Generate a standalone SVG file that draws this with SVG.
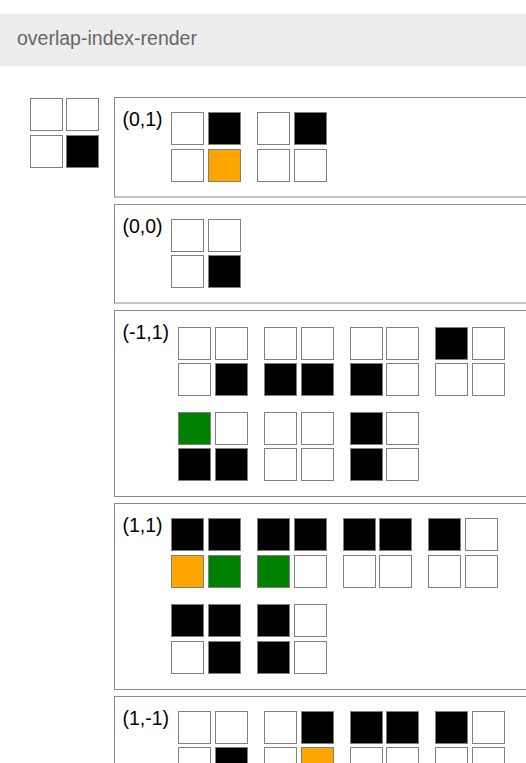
<svg xmlns="http://www.w3.org/2000/svg" width="526" height="763" viewBox="0 0 526 763">
<style>
  .bg { fill: #ffffff; }
  .hdr { fill: #eeedee; }
  .hdrt { font-family: "Liberation Sans", Arial, sans-serif; font-size: 19.5px; fill: #666666; }
  .lbl { font-family: "Liberation Sans", Arial, sans-serif; font-size: 19.5px; fill: #000000; }
  .panel { fill: #ffffff; stroke: #888888; stroke-width: 1; }
  .c { stroke: #808080; stroke-width: 1; }
  .w { fill: #ffffff; }
  .k { fill: #000000; }
  .o { fill: #ffa500; }
  .g { fill: #008000; }
</style>
<defs>
  <rect id="cell" width="32" height="32"/>
</defs>
<rect class="bg" x="0" y="0" width="526" height="763"/>

<g id="header">
  <rect class="hdr" x="0" y="14" width="526" height="52"/>
  <text class="hdrt" x="17" y="44.5">overlap-index-render</text>
</g>

<g id="legend">
  <rect class="c w" x="30.5" y="98.5" width="32" height="32"/>
  <rect class="c w" x="66.5" y="98.5" width="32" height="32"/>
  <rect class="c w" x="30.5" y="135.5" width="32" height="32"/>
  <rect class="c k" x="66.5" y="135.5" width="32" height="32"/>
</g>

<g id="panel-0-1">
  <rect class="panel" x="114.5" y="97.5" width="430" height="99.5"/>
  <text class="lbl" x="122.5" y="126">(0,1)</text>
  <rect class="c w" x="171.5" y="112.5" width="32" height="32"/>
  <rect class="c k" x="208.5" y="112.5" width="32" height="32"/>
  <rect class="c w" x="171.5" y="149.5" width="32" height="32"/>
  <rect class="c o" x="208.5" y="149.5" width="32" height="32"/>
  <rect class="c w" x="257.5" y="112.5" width="32" height="32"/>
  <rect class="c k" x="294.5" y="112.5" width="32" height="32"/>
  <rect class="c w" x="257.5" y="149.5" width="32" height="32"/>
  <rect class="c w" x="294.5" y="149.5" width="32" height="32"/>
</g>

<g id="panel-0-0">
  <rect class="panel" x="114.5" y="204.5" width="430" height="98.5"/>
  <text class="lbl" x="122.5" y="232.5">(0,0)</text>
  <rect class="c w" x="171.5" y="219.5" width="32" height="32"/>
  <rect class="c w" x="208.5" y="219.5" width="32" height="32"/>
  <rect class="c w" x="171.5" y="255.5" width="32" height="32"/>
  <rect class="c k" x="208.5" y="255.5" width="32" height="32"/>
</g>

<g id="panel-m1-1">
  <rect class="panel" x="114.5" y="310.5" width="430" height="186"/>
  <text class="lbl" x="122.5" y="339">(-1,1)</text>
  <!-- group 1 -->
  <rect class="c w" x="178.5" y="327.5" width="32" height="32"/>
  <rect class="c w" x="215.5" y="327.5" width="32" height="32"/>
  <rect class="c w" x="178.5" y="363.5" width="32" height="32"/>
  <rect class="c k" x="215.5" y="363.5" width="32" height="32"/>
  <!-- group 2 -->
  <rect class="c w" x="264.5" y="327.5" width="32" height="32"/>
  <rect class="c w" x="301.5" y="327.5" width="32" height="32"/>
  <rect class="c k" x="264.5" y="363.5" width="32" height="32"/>
  <rect class="c k" x="301.5" y="363.5" width="32" height="32"/>
  <!-- group 3 -->
  <rect class="c w" x="350.5" y="327.5" width="32" height="32"/>
  <rect class="c w" x="386.5" y="327.5" width="32" height="32"/>
  <rect class="c k" x="350.5" y="363.5" width="32" height="32"/>
  <rect class="c w" x="386.5" y="363.5" width="32" height="32"/>
  <!-- group 4 -->
  <rect class="c k" x="435.5" y="327.5" width="32" height="32"/>
  <rect class="c w" x="472.5" y="327.5" width="32" height="32"/>
  <rect class="c w" x="435.5" y="363.5" width="32" height="32"/>
  <rect class="c w" x="472.5" y="363.5" width="32" height="32"/>
  <!-- group 5 -->
  <rect class="c g" x="178.5" y="412.5" width="32" height="32"/>
  <rect class="c w" x="215.5" y="412.5" width="32" height="32"/>
  <rect class="c k" x="178.5" y="448.5" width="32" height="32"/>
  <rect class="c k" x="215.5" y="448.5" width="32" height="32"/>
  <!-- group 6 -->
  <rect class="c w" x="264.5" y="412.5" width="32" height="32"/>
  <rect class="c w" x="301.5" y="412.5" width="32" height="32"/>
  <rect class="c w" x="264.5" y="448.5" width="32" height="32"/>
  <rect class="c w" x="301.5" y="448.5" width="32" height="32"/>
  <!-- group 7 -->
  <rect class="c k" x="350.5" y="412.5" width="32" height="32"/>
  <rect class="c w" x="386.5" y="412.5" width="32" height="32"/>
  <rect class="c k" x="350.5" y="448.5" width="32" height="32"/>
  <rect class="c w" x="386.5" y="448.5" width="32" height="32"/>
</g>

<g id="panel-1-1">
  <rect class="panel" x="114.5" y="503.5" width="430" height="186"/>
  <text class="lbl" x="122.5" y="532">(1,1)</text>
  <!-- group 1 -->
  <rect class="c k" x="171.5" y="518.5" width="32" height="32"/>
  <rect class="c k" x="208.5" y="518.5" width="32" height="32"/>
  <rect class="c o" x="171.5" y="555.5" width="32" height="32"/>
  <rect class="c g" x="208.5" y="555.5" width="32" height="32"/>
  <!-- group 2 -->
  <rect class="c k" x="257.5" y="518.5" width="32" height="32"/>
  <rect class="c k" x="294.5" y="518.5" width="32" height="32"/>
  <rect class="c g" x="257.5" y="555.5" width="32" height="32"/>
  <rect class="c w" x="294.5" y="555.5" width="32" height="32"/>
  <!-- group 3 -->
  <rect class="c k" x="343.5" y="518.5" width="32" height="32"/>
  <rect class="c k" x="379.5" y="518.5" width="32" height="32"/>
  <rect class="c w" x="343.5" y="555.5" width="32" height="32"/>
  <rect class="c w" x="379.5" y="555.5" width="32" height="32"/>
  <!-- group 4 -->
  <rect class="c k" x="428.5" y="518.5" width="32" height="32"/>
  <rect class="c w" x="465.5" y="518.5" width="32" height="32"/>
  <rect class="c w" x="428.5" y="555.5" width="32" height="32"/>
  <rect class="c w" x="465.5" y="555.5" width="32" height="32"/>
  <!-- group 5 -->
  <rect class="c k" x="171.5" y="604.5" width="32" height="32"/>
  <rect class="c k" x="208.5" y="604.5" width="32" height="32"/>
  <rect class="c w" x="171.5" y="641.5" width="32" height="32"/>
  <rect class="c k" x="208.5" y="641.5" width="32" height="32"/>
  <!-- group 6 -->
  <rect class="c k" x="257.5" y="604.5" width="32" height="32"/>
  <rect class="c w" x="294.5" y="604.5" width="32" height="32"/>
  <rect class="c k" x="257.5" y="641.5" width="32" height="32"/>
  <rect class="c w" x="294.5" y="641.5" width="32" height="32"/>
</g>

<g id="panel-1-m1">
  <rect class="panel" x="114.5" y="696.5" width="430" height="200"/>
  <text class="lbl" x="122.5" y="725">(1,-1)</text>
  <!-- group 1 -->
  <rect class="c w" x="178.5" y="711.5" width="32" height="32"/>
  <rect class="c w" x="215.5" y="711.5" width="32" height="32"/>
  <rect class="c w" x="178.5" y="747.5" width="32" height="32"/>
  <rect class="c k" x="215.5" y="747.5" width="32" height="32"/>
  <!-- group 2 -->
  <rect class="c w" x="264.5" y="711.5" width="32" height="32"/>
  <rect class="c k" x="301.5" y="711.5" width="32" height="32"/>
  <rect class="c w" x="264.5" y="747.5" width="32" height="32"/>
  <rect class="c o" x="301.5" y="747.5" width="32" height="32"/>
  <!-- group 3 -->
  <rect class="c k" x="350.5" y="711.5" width="32" height="32"/>
  <rect class="c k" x="386.5" y="711.5" width="32" height="32"/>
  <rect class="c w" x="350.5" y="747.5" width="32" height="32"/>
  <rect class="c w" x="386.5" y="747.5" width="32" height="32"/>
  <!-- group 4 -->
  <rect class="c k" x="435.5" y="711.5" width="32" height="32"/>
  <rect class="c w" x="472.5" y="711.5" width="32" height="32"/>
  <rect class="c w" x="435.5" y="747.5" width="32" height="32"/>
  <rect class="c w" x="472.5" y="747.5" width="32" height="32"/>
</g>
</svg>
